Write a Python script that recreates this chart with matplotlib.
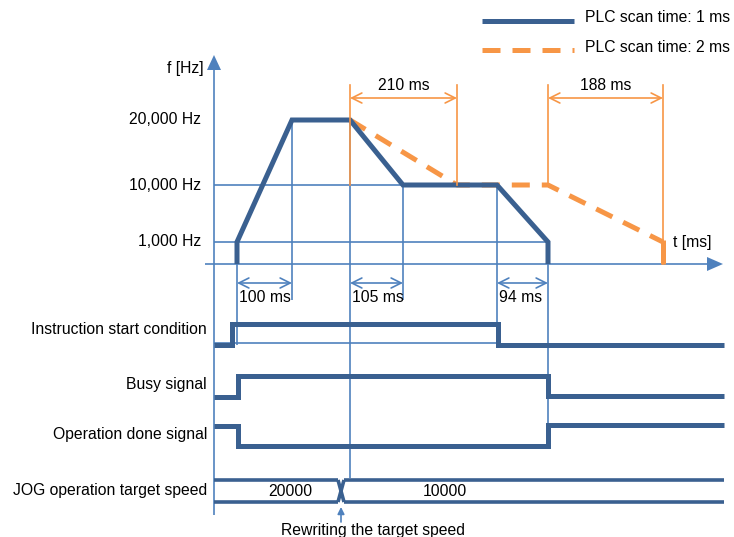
import matplotlib
matplotlib.use('Agg')
import matplotlib.pyplot as plt

plt.rcParams['font.family'] = ['Liberation Sans', 'DejaVu Sans']
FS = 11.3

# Colores
AZUL_FINO = '#4F81BD'
AZUL = '#3A6090'
NARANJA = '#F79646'

# Datos del diagrama (coordenadas del dibujo, eje y hacia abajo)
freq_labels = ['20,000 Hz', '10,000 Hz', '1,000 Hz']
freq_y = [120, 185, 242]
t_axis_y = 264

# Perfil con scan de 1 ms
perfil_1ms_x = [237, 237, 292, 350, 403, 497, 548, 548]
perfil_1ms_y = [264, 242, 120, 120, 185, 185, 242, 264]
# Perfil con scan de 2 ms
perfil_2ms_x = [350, 457, 548, 663]
perfil_2ms_y = [120, 185, 185, 242]
caida_2ms_x = [663, 663]
caida_2ms_y = [240, 264]

# Cotas (inicio, fin, texto)
cotas_azul = [(237, 292, '100 ms'), (350, 403, '105 ms'), (497, 548, '94 ms')]
cotas_naranja = [(350, 457, '210 ms'), (548, 663, '188 ms')]

# Senales
senal_labels = ['Instruction start condition', 'Busy signal',
                'Operation done signal', 'JOG operation target speed']
senal_label_y = [329, 385, 434, 490]
inicio_x = [214, 232, 232, 498, 498, 724]
inicio_y = [345, 345, 324, 324, 345, 345]
busy_x = [214, 238, 238, 548, 548, 724]
busy_y = [397, 397, 376, 376, 396, 396]
done_x = [214, 238, 238, 548, 548, 724]
done_y = [426, 426, 446, 446, 425, 425]
jog_valores = ['20000', '10000']
jog_texto_x = [290, 445]
jog_cambio_x = 341

fig = plt.figure(figsize=(7.34, 5.37), dpi=100)
ax = fig.add_axes([0, 0, 1, 1])
ax.set_xlim(0, 734)
ax.set_ylim(537, 0)
ax.axis('off')

fino = dict(color=AZUL_FINO, lw=1.2, solid_capstyle='butt')

# Ejes con flechas
ax.plot([214, 214], [515, 68], **fino)
ax.plot([205, 708], [t_axis_y, t_axis_y], **fino)
ax.fill([207, 221, 214], [70, 70, 55], color=AZUL_FINO, lw=0)
ax.fill([707, 707, 723], [257, 271, 264], color=AZUL_FINO, lw=0)
ax.text(185, 68, 'f [Hz]', fontsize=FS, ha='center', va='center')
ax.text(692, 243, 't [ms]', fontsize=FS, ha='center', va='center')

# Niveles de frecuencia
for lab, y in zip(freq_labels, freq_y):
    ax.text(201, y, lab, fontsize=FS, ha='right', va='center')
ax.plot([214, 497], [185, 185], **fino)
ax.plot([214, 548], [242, 242], **fino)

# Lineas verticales auxiliares
verticales = [(237, 242, 345), (292, 120, 300), (350, 120, 478),
              (403, 185, 300), (497, 185, 343), (548, 242, 435)]
for x, y0, y1 in verticales:
    ax.plot([x, x], [y0, y1], **fino)
ax.plot([214, 497], [343, 343], **fino)

# Perfiles
ax.plot(perfil_2ms_x, perfil_2ms_y, color=NARANJA, lw=3.6,
        linestyle=(0, (3.6, 2.4)), solid_joinstyle='miter')
ax.plot(caida_2ms_x, caida_2ms_y, color=NARANJA, lw=3.6, solid_capstyle='butt')
ax.plot(perfil_1ms_x, perfil_1ms_y, color=AZUL, lw=3.6,
        solid_joinstyle='miter', solid_capstyle='butt')

# Cotas naranjas
for x in [350, 457, 548, 663]:
    ax.plot([x, x], [85, 185 if x < 663 else 264], color=NARANJA, lw=1.2)
for x0, x1, txt in cotas_naranja:
    ax.annotate('', xy=(x0, 98), xytext=(x1, 98),
                arrowprops=dict(arrowstyle='<->', color=NARANJA, lw=1.2,
                                mutation_scale=18, shrinkA=0, shrinkB=0))
    ax.text((x0 + x1) / 2, 86, txt, fontsize=FS, ha='center', va='center')

# Cotas azules
for x0, x1, txt in cotas_azul:
    ax.annotate('', xy=(x0, 283), xytext=(x1, 283),
                arrowprops=dict(arrowstyle='<->', color=AZUL_FINO, lw=1.2,
                                mutation_scale=18, shrinkA=0, shrinkB=0))
    ax.text(x0 + 2, 298, txt, fontsize=FS, ha='left', va='center')

# Senales de tiempo
for sx, sy in [(inicio_x, inicio_y), (busy_x, busy_y), (done_x, done_y)]:
    ax.plot(sx, sy, color=AZUL, lw=3.6, solid_joinstyle='miter',
            solid_capstyle='butt')
for lab, y in zip(senal_labels, senal_label_y):
    ax.text(207, y, lab, fontsize=FS, ha='right', va='center')

# Bus JOG
bus = dict(color=AZUL, lw=2.6, solid_capstyle='butt')
for y in [480, 502]:
    ax.plot([214, jog_cambio_x - 3], [y, y], **bus)
    ax.plot([jog_cambio_x + 3, 724], [y, y], **bus)
ax.plot([jog_cambio_x - 3, jog_cambio_x + 3], [480, 502], **bus)
ax.plot([jog_cambio_x - 3, jog_cambio_x + 3], [502, 480], **bus)
for v, x in zip(jog_valores, jog_texto_x):
    ax.text(x, 492, v, fontsize=FS, ha='center', va='center')

# Flecha de reescritura
ax.annotate('', xy=(jog_cambio_x, 507), xytext=(jog_cambio_x, 522),
            arrowprops=dict(arrowstyle='-|>', color=AZUL_FINO, lw=1.2,
                            mutation_scale=10, shrinkA=0, shrinkB=0))
ax.text(373, 530, 'Rewriting the target speed', fontsize=FS,
        ha='center', va='center')

# Leyenda
ax.plot([482, 574], [21, 21], color=AZUL, lw=3.6, solid_capstyle='butt')
ax.plot([482, 574], [50, 50], color=NARANJA, lw=3.6,
        linestyle=(0, (3.6, 2.4)), solid_capstyle='butt')
ax.text(585, 18, 'PLC scan time: 1 ms', fontsize=FS, ha='left', va='center')
ax.text(585, 47, 'PLC scan time: 2 ms', fontsize=FS, ha='left', va='center')

plt.savefig('out.png', dpi=100)
plt.close()
